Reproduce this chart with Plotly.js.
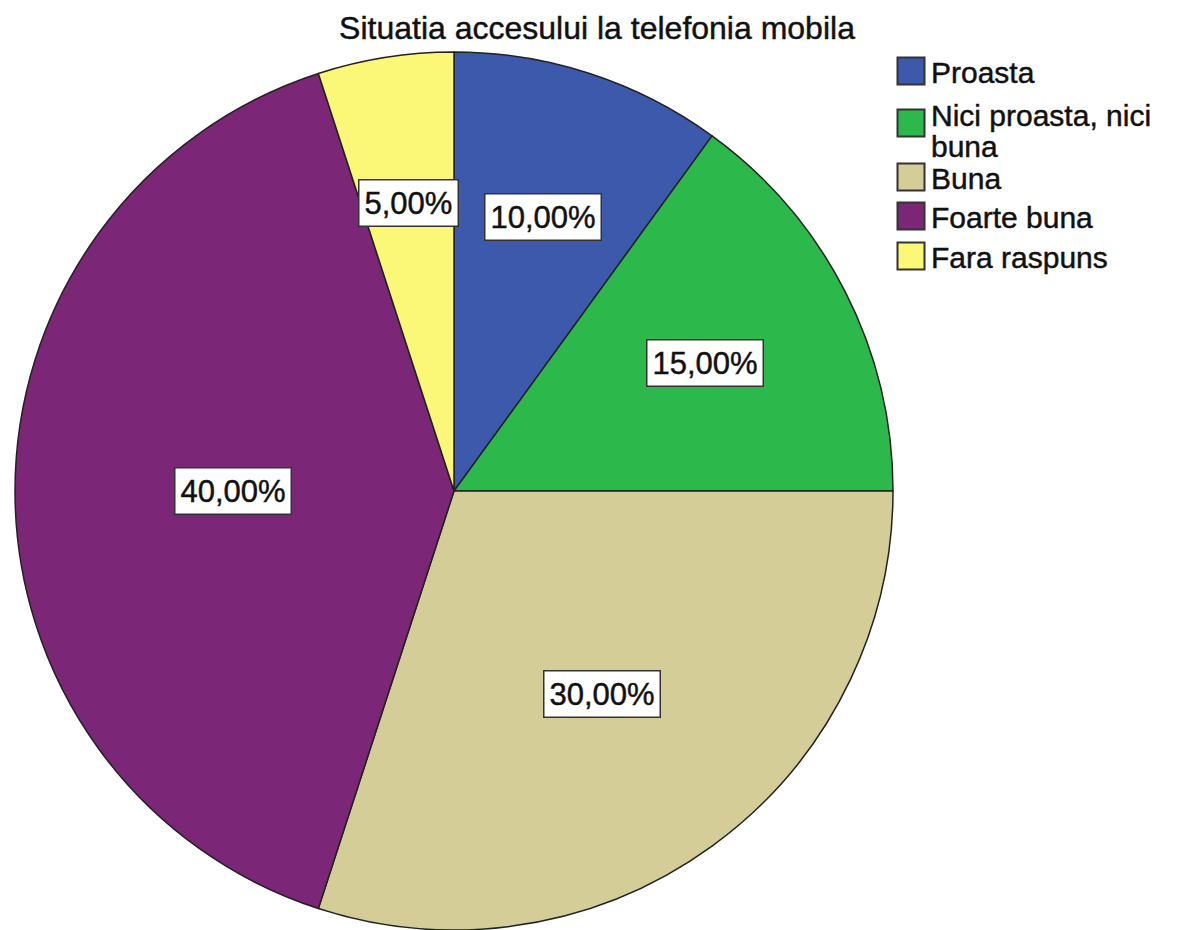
<!DOCTYPE html>
<html>
<head>
<meta charset="utf-8">
<script src="https://cdn.plot.ly/plotly-3.0.1.min.js"></script>
<style>
html,body{margin:0;padding:0;background:#fff;overflow:hidden;}
.annotation-text, .legendtext, .gtitle {stroke:#111; stroke-width:0.45px;}
</style>
</head>
<body>
<div id="chart" style="width:1177px;height:930px;"></div>
<script>
const categories = ["Proasta", "Nici proasta, nici<br>buna", "Buna", "Foarte buna", "Fara raspuns"];
const values = [10, 15, 30, 40, 5];
const colors = ["#3d59ab", "#2db84b", "#d4cd97", "#7b2677", "#fbf777"];
const chartTitle = "Situatia accesului la telefonia mobila";

const W = 1177, H = 930, mT = 52;
const domX = [14 / W, 894 / W];
const plotH = H - mT;
const R = plotH / 2;
const cx = (domX[0] + domX[1]) / 2 * W;
const cy = mT + R;
const FONT = "Liberation Sans, Arial, sans-serif";

// label positions: sector centroids, computed from the data
const total = values.reduce((a, b) => a + b, 0);
let cum = 0;
const annotations = values.map((v, i) => {
  const frac = v / total;
  const alpha = Math.PI * frac; // half angle
  const mid = 2 * Math.PI * (cum + frac / 2);
  cum += frac;
  const d = R * (2 / 3) * Math.sin(alpha) / alpha;
  const px = cx + d * Math.sin(mid);
  const py = cy - d * Math.cos(mid);
  return {
    x: px / W, y: (H - py) / plotH, xref: "paper", yref: "paper",
    xanchor: "center", yanchor: "middle",
    text: v.toFixed(2).replace(".", ",") + "%",
    showarrow: false,
    font: {family: FONT, size: 31, color: "#111"},
    bgcolor: "#ffffff", bordercolor: "#333", borderwidth: 1.5, borderpad: 5
  };
});

const data = [{
  type: "pie",
  labels: categories,
  values: values,
  sort: false,
  direction: "clockwise",
  rotation: 0,
  textinfo: "none",
  hoverinfo: "skip",
  marker: {colors: colors, line: {color: "#222", width: 1.5}},
  domain: {x: domX, y: [0, 1]}
}];

const layout = {
  width: W, height: H,
  margin: {l: 0, r: 0, t: mT, b: 0},
  paper_bgcolor: "#fff",
  title: {
    text: chartTitle, x: 597 / W, xanchor: "center",
    y: 1 - 28 / H, yanchor: "middle", yref: "container",
    font: {family: FONT, size: 32, color: "#111"}
  },
  showlegend: true,
  legend: {
    x: 891 / W, xanchor: "left", y: (H - 45) / plotH, yanchor: "top",
    font: {family: FONT, size: 30, color: "#111"},
    bgcolor: "rgba(0,0,0,0)", tracegroupgap: 0
  },
  annotations: annotations
};

// legend entry offsets (px from first entry) and tighter line spacing, as in the reference
const legendOffsets = [0, 52, 106, 145, 185];

Plotly.newPlot("chart", data, layout, {displayModeBar: false, staticPlot: true}).then(gd => {
  gd.querySelectorAll(".legendpoints path").forEach(p => {
    p.setAttribute("d", "M13.5,13.5H-13.5V-13.5H13.5Z");
    p.style.strokeWidth = "2px";
    p.style.stroke = "#333";
  });
  const items = Array.from(gd.querySelectorAll(".legend .traces"));
  const parse = g => {
    const m = /translate\(\s*([-\d.e]+)[ ,]+([-\d.e]+)\s*\)/.exec(g.getAttribute("transform") || "");
    return m ? [parseFloat(m[1]), parseFloat(m[2])] : [0, 0];
  };
  if (items.length === legendOffsets.length) {
    const base = parse(items[0]);
    items.forEach((g, i) => {
      const t = parse(g);
      g.setAttribute("transform", `translate(${t[0]},${base[1] + legendOffsets[i]})`);
      const txt = g.querySelector("text.legendtext");
      const lines = txt ? txt.querySelectorAll("tspan.line") : [];
      if (lines.length > 1) {
        const prev = txt.getAttribute("transform") || "";
        txt.setAttribute("transform", (prev + " translate(0,11)").trim());
        for (let k = 1; k < lines.length; k++) lines[k].setAttribute("dy", "1.03em");
      }
    });
  }
});
</script>
</body>
</html>
